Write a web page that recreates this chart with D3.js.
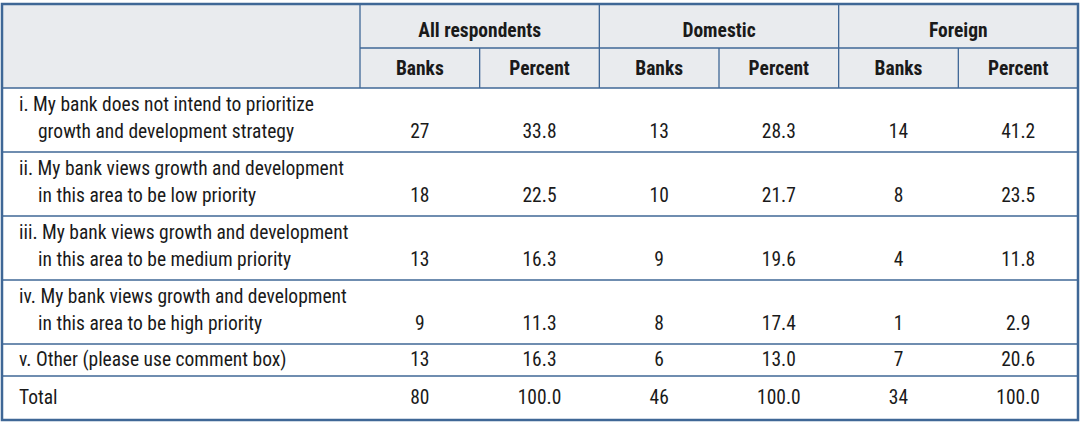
<!DOCTYPE html>
<html><head><meta charset="utf-8">
<script src="https://cdn.jsdelivr.net/npm/d3@7"></script>
<style>body{margin:0;background:#fff}text{font-family:"Liberation Sans Narrow","Roboto Condensed","Arial Narrow",sans-serif;fill:#1a1a1a}</style>
</head><body><svg id="c" width="1082" height="426"></svg>
<script>
const groups = ["All respondents","Domestic","Foreign"];
const subHeaders = ["Banks","Percent"];
const rowLabels = [
 ["i. My bank does not intend to prioritize","growth and development strategy"],
 ["ii. My bank views growth and development","in this area to be low priority"],
 ["iii. My bank views growth and development","in this area to be medium priority"],
 ["iv. My bank views growth and development","in this area to be high priority"],
 ["v. Other (please use comment box)"],
 ["Total"]
];
const allBanks = [27,18,13,9,13,80];
const allPct = ["33.8","22.5","16.3","11.3","16.3","100.0"];
const domBanks = [13,10,9,8,6,46];
const domPct = ["28.3","21.7","19.6","17.4","13.0","100.0"];
const forBanks = [14,8,4,1,7,34];
const forPct = ["41.2","23.5","11.8","2.9","20.6","100.0"];
const dataCols = [allBanks,allPct,domBanks,domPct,forBanks,forPct];

const svg = d3.select("#c");
const blue = "#3f6796", hdr = "#e9ebee";
const x = d3.scaleLinear().domain([0,6]).range([360,1078]);
const rowTops = [88,152,216,280,344,376,420];
const fs = 19.5;

svg.append("rect").attr("x",2).attr("y",4).attr("width",1076).attr("height",84).attr("fill",hdr);
const hl = [48,...rowTops.slice(0,6)];
hl.forEach((y,i)=>svg.append("line").attr("x1",i===0?360:2).attr("x2",1078).attr("y1",y).attr("y2",y).attr("stroke",blue).attr("stroke-width",1.3));
[0,2,4].forEach(i=>svg.append("line").attr("x1",x(i)).attr("x2",x(i)).attr("y1",4).attr("y2",88).attr("stroke",blue).attr("stroke-width",1.3));
[1,3,5].forEach(i=>svg.append("line").attr("x1",x(i)).attr("x2",x(i)).attr("y1",48).attr("y2",88).attr("stroke",blue).attr("stroke-width",1.3));
svg.append("rect").attr("x",2).attr("y",4).attr("width",1076).attr("height",416).attr("fill","none").attr("stroke",blue).attr("stroke-width",2.5);

groups.forEach((g,i)=>svg.append("text").attr("x",x(i*2+1)).attr("y",37).attr("text-anchor","middle").attr("font-size",fs).attr("font-weight","bold").text(g));
for(let c=0;c<6;c++) svg.append("text").attr("x",(x(c)+x(c+1))/2).attr("y",75).attr("text-anchor","middle").attr("font-size",fs).attr("font-weight","bold").text(subHeaders[c%2]);

rowLabels.forEach((lines,r)=>{
  const top=rowTops[r], bot=rowTops[r+1];
  if(lines.length===2){
    svg.append("text").attr("x",19).attr("y",top+23).attr("font-size",fs).text(lines[0]);
    svg.append("text").attr("x",38).attr("y",top+50).attr("font-size",fs).text(lines[1]);
  } else svg.append("text").attr("x",19).attr("y",(top+bot)/2+6).attr("font-size",fs).text(lines[0]);
  const vy = lines.length===2 ? top+50 : (top+bot)/2+6;
  dataCols.forEach((col,c)=>svg.append("text").attr("x",(x(c)+x(c+1))/2).attr("y",vy).attr("text-anchor","middle").attr("font-size",fs).text(col[r]));
});
</script></body></html>
